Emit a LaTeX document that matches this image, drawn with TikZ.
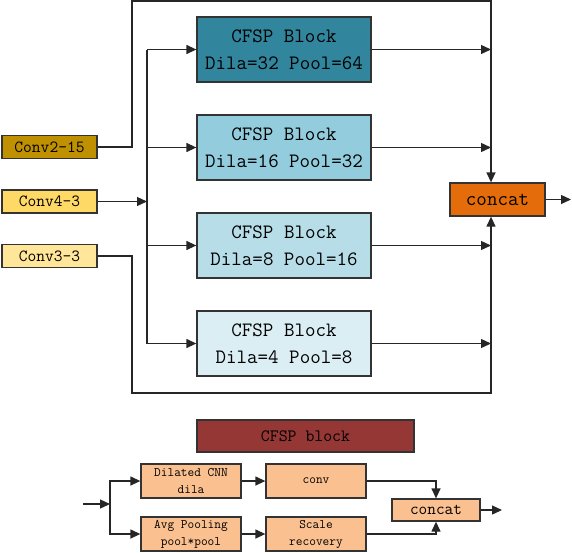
\documentclass[tikz,border=0pt]{standalone}
\usepackage{fontspec}
\usetikzlibrary{arrows.meta, positioning, calc}

\definecolor{goldC}{HTML}{BF9000}
\definecolor{yellowC}{HTML}{FFD966}
\definecolor{paleC}{HTML}{FFE699}
\definecolor{tealA}{HTML}{31859C}
\definecolor{tealB}{HTML}{93CDDD}
\definecolor{tealC}{HTML}{B7DEE8}
\definecolor{tealD}{HTML}{DBEEF4}
\definecolor{orangeC}{HTML}{E46C0A}
\definecolor{peachC}{HTML}{FAC090}
\definecolor{brickC}{HTML}{953735}

\begin{document}
\begin{tikzpicture}[
    x=1pt, y=-1pt,
    box/.style={rectangle, draw=black!80, line width=1.3pt, inner sep=0pt, text centered},
    convbox/.style={box, minimum width=95pt, minimum height=23pt, font=\ttfamily\fontsize{17}{20}\selectfont},
    cfsp/.style={box, align=center, minimum width=174pt, minimum height=65pt, font=\ttfamily\fontsize{20.4}{27}\selectfont},
    small/.style={box, align=center, fill=peachC, minimum width=100pt, minimum height=34pt, font=\ttfamily\fontsize{13}{17}\selectfont},
    line/.style={line width=1.3pt, draw=black!85},
    arrow/.style={line, -{Triangle[length=10pt, width=9pt]}}
]
\useasboundingbox (0,0) rectangle (572,552);

% 输入特征
\node (conv215) [convbox, fill=goldC] at (49.5,147) {Conv2-15};
\node (conv43) [convbox, fill=yellowC] at (49.5,201.5) {Conv4-3};
\node (conv33) [convbox, fill=paleC] at (49.5,256) {Conv3-3};

% CFSP 模块
\node (blk32) [cfsp, fill=tealA] at (284,49.5) {CFSP Block\\Dila=32 Pool=64};
\node (blk16) [cfsp, fill=tealB] at (284,147.5) {CFSP Block\\Dila=16 Pool=32};
\node (blk8) [cfsp, fill=tealC] at (284,245.5) {CFSP Block\\Dila=8 Pool=16};
\node (blk4) [cfsp, fill=tealD] at (284,343.5) {CFSP Block\\Dila=4 Pool=8};

\node (concat) [box, fill=orangeC, minimum width=95pt, minimum height=33pt, font=\ttfamily\fontsize{20.4}{24}\selectfont] at (497.5,199.5) {concat};

% 辅助坐标
\coordinate (bus) at (147,0);
\coordinate (trunk) at (491,0);
\coordinate (topleft) at (132,1);
\coordinate (botleft) at (132,393);
\coordinate (out) at (571,0);

% 连线
\draw [line] (blk32.west -| bus) -- (blk4.west -| bus);
\draw [arrow] (conv43) -- (conv43 -| bus);
\draw [arrow] (blk32.west -| bus) -- (blk32);
\draw [arrow] (blk16.west -| bus) -- (blk16);
\draw [arrow] (blk8.west -| bus) -- (blk8);
\draw [arrow] (blk4.west -| bus) -- (blk4);
\draw [arrow] (blk32) -- (blk32.east -| trunk);
\draw [arrow] (blk16) -- (blk16.east -| trunk);
\draw [arrow] (blk8) -- (blk8.east -| trunk);
\draw [arrow] (blk4) -- (blk4.east -| trunk);
\draw [arrow] (conv215) -| (topleft) -| (concat.north -| trunk);
\draw [arrow] (conv33) -| (botleft) -| (concat.south -| trunk);
\draw [arrow] (concat) -- (concat.east -| out);

% CFSP block 内部结构
\node (title) [box, fill=brickC, minimum width=217pt, minimum height=32pt, font=\ttfamily\fontsize{17.3}{20}\selectfont] at (305.5,436) {CFSP block};
\node (dil) [small] at (191,481) {Dilated CNN\\dila};
\node (avg) [small] at (191,534) {Avg Pooling\\pool*pool};
\node (cv) [small] at (316,481) {conv};
\node (scale) [small] at (316,534) {Scale\\recovery};
\node (sconcat) [box, fill=peachC, minimum width=88pt, minimum height=22pt, font=\ttfamily\fontsize{16.8}{20}\selectfont] at (436,510) {concat};

\coordinate (in) at (83,504);
\coordinate (split) at (110,504);
\coordinate (sout) at (502,0);

\draw [arrow] (in) -- (split);
\draw [arrow] (split) |- (dil);
\draw [arrow] (split) |- (avg);
\draw [arrow] (dil) -- (cv);
\draw [arrow] (avg) -- (scale);
\draw [arrow] (cv) -| (sconcat.north);
\draw [arrow] (scale) -| (sconcat.south);
\draw [arrow] (sconcat) -- (sconcat.east -| sout);

\end{tikzpicture}
\end{document}
